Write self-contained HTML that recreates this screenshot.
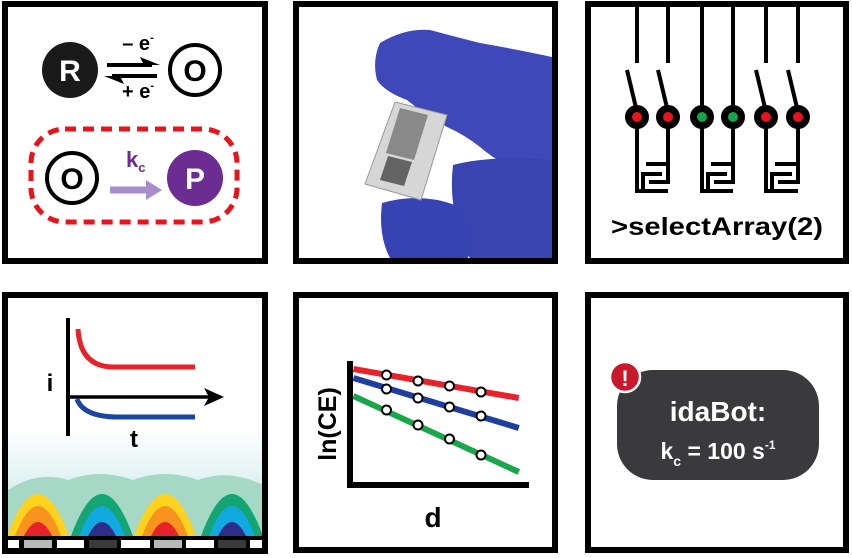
<!DOCTYPE html>
<html><head><meta charset="utf-8"><style>
html,body{margin:0;padding:0;background:#fff;width:852px;height:558px;overflow:hidden}
svg{display:block}
text{font-family:"Liberation Sans",sans-serif;font-weight:bold}
</style></head><body>
<svg id="g" width="852" height="558" viewBox="0 0 852 558">
<defs>
<linearGradient id="tg" x1="0" y1="0" x2="0" y2="1">
<stop offset="0" stop-color="#ffffff"/><stop offset="1" stop-color="#bfe3e3"/></linearGradient>
<clipPath id="c4"><rect x="5" y="295" width="260" height="256"/></clipPath>
</defs>

<!-- Panel 1: reaction scheme -->
<g>
<rect x="5" y="4" width="260" height="257" fill="#fff" stroke="#000" stroke-width="6"/>
<circle cx="70" cy="70" r="28" fill="#1a1a1a"/>
<text x="70" y="81" font-size="30" fill="#fff" text-anchor="middle">R</text>
<circle cx="195" cy="70" r="25" fill="#fff" stroke="#000" stroke-width="4"/>
<text x="195" y="81" font-size="30" fill="#000" text-anchor="middle">O</text>
<g>
<line x1="107" y1="65" x2="152" y2="65" stroke="#000" stroke-width="4"/>
<polygon points="160,65 140,57 144,65" fill="#000"/>
<line x1="112" y1="76" x2="157" y2="76" stroke="#000" stroke-width="4"/>
<polygon points="104,76 124,84 120,76" fill="#000"/>
</g>
<text x="138" y="50" font-size="20" text-anchor="middle">– e<tspan font-size="11" dy="-9">-</tspan></text>
<text x="138" y="98" font-size="20" text-anchor="middle">+ e<tspan font-size="11" dy="-9">-</tspan></text>
<rect x="31" y="129" width="206" height="93" rx="34" fill="none" stroke="#e8141c" stroke-width="5" stroke-dasharray="11,7"/>
<circle cx="72" cy="178" r="25" fill="#fff" stroke="#000" stroke-width="4"/>
<text x="72" y="189" font-size="30" text-anchor="middle">O</text>
<line x1="110" y1="190" x2="150" y2="190" stroke="#a98dcb" stroke-width="7"/>
<polygon points="162,190 146,180 146,200" fill="#a98dcb"/>
<text x="126" y="167" font-size="22" fill="#6b2d91">k<tspan font-size="13" dy="5">c</tspan></text>
<circle cx="195" cy="178" r="28" fill="#6b2d91"/>
<text x="195" y="189" font-size="30" fill="#fff" text-anchor="middle">P</text>
</g>

<!-- Panel 2: photo of device in glove -->
<g>
<rect x="296" y="4" width="259" height="257" fill="#fff" stroke="#000" stroke-width="6"/>
<path d="M380,43 Q405,28 430,30 Q460,38 480,43 Q520,50 552,57 L552,173 L520,173 Q495,160 480,147 Q465,135 447,127 Q425,115 407,100 Q385,92 377,80 Q372,60 380,43Z" fill="#3e48b8"/>
<path d="M453,165 Q490,155 552,160 L552,258 L470,258 Q455,240 455,215 Q450,190 453,165Z" fill="#3a44b0"/>
<path d="M382,203 Q420,192 455,205 Q470,225 468,258 L390,258 Q378,235 382,203Z" fill="#3843b3"/>
<polygon points="395,102 447,115 421,200 365,184" fill="#d6d6d6" stroke="#999" stroke-width="1"/>
<polygon points="400,108 428,115 414,160 386,153" fill="#555" opacity="0.6"/>
<polygon points="388,156 412,162 404,186 380,180" fill="#333" opacity="0.7"/>
</g>

<!-- Panel 3: array selection -->
<g>
<rect x="588" y="4" width="258" height="257" fill="#fff" stroke="#000" stroke-width="6"/>
<g id="sw" stroke="#000" stroke-width="4" fill="none"></g>
<text x="717" y="235" font-size="25" text-anchor="middle" textLength="212" lengthAdjust="spacingAndGlyphs">&gt;selectArray(2)</text>
</g>

<!-- Panel 4: current transients & diffusion -->
<g>
<rect x="5" y="295" width="260" height="256" fill="#fff"/>
<g clip-path="url(#c4)">
<rect x="5" y="428" width="260" height="110" fill="url(#tg)"/>
<path d="M5,538 L5,492 Q36,470 68,480 Q100,468 133,480 Q165,468 198,480 Q230,468 265,486 L265,538Z" fill="#a6d8c6"/>
<g id="arches"></g>
<rect x="5" y="536" width="260" height="16" fill="#000"/>
<g id="strip"></g>
</g>
<rect x="5" y="295" width="260" height="256" fill="none" stroke="#000" stroke-width="6"/>
<line x1="68" y1="318" x2="68" y2="436" stroke="#000" stroke-width="4"/>
<line x1="68" y1="397" x2="210" y2="397" stroke="#000" stroke-width="3.5"/>
<polygon points="224,397 204,388 209,397 204,406" fill="#000"/>
<path d="M78,329 Q80,366 112,367 L195,367" fill="none" stroke="#e8222a" stroke-width="5"/>
<path d="M77,399 Q83,416 115,417 L195,417" fill="none" stroke="#1a45a0" stroke-width="5"/>
<text x="50" y="391" font-size="24" text-anchor="middle">i</text>
<text x="134" y="447" font-size="24" text-anchor="middle">t</text>
</g>

<!-- Panel 5: ln(CE) vs d chart -->
<g>
<rect x="296" y="295" width="259" height="255" fill="#fff" stroke="#000" stroke-width="6"/>
<g id="chart"></g>
<line x1="350" y1="361" x2="350" y2="488" stroke="#000" stroke-width="6"/>
<line x1="347" y1="485" x2="529" y2="485" stroke="#000" stroke-width="6"/>
<text transform="translate(336,424) rotate(-90)" font-size="25" text-anchor="middle">ln(CE)</text>
<text x="433" y="527" font-size="28" text-anchor="middle">d</text>
</g>

<!-- Panel 6: idaBot -->
<g>
<rect x="588" y="295" width="258" height="255" fill="#fff" stroke="#000" stroke-width="6"/>
<rect x="617" y="370" width="202" height="110" rx="36" fill="#3a3a3c"/>
<circle cx="625" cy="377" r="15" fill="#c8182a" stroke="#fff" stroke-width="2.5"/>
<text x="625" y="386" font-size="22" fill="#fff" text-anchor="middle">!</text>
<text x="718" y="421" font-size="28" fill="#fff" text-anchor="middle">idaBot:</text>
<text x="718" y="459" font-size="23" fill="#fff" text-anchor="middle">k<tspan font-size="14" dy="7">c</tspan><tspan dy="-7"> = 100 s</tspan><tspan font-size="12" dy="-10">-1</tspan></text>
</g>
</svg>
<script>
// ln(CE) vs d data
const distances = [1, 2, 3, 4];
const lineStart = [-0.05, -0.05, -0.05];
const lineEnd = [5.2, 5.2, 5.2];
const seriesNames = ['red', 'blue', 'green'];
const seriesColors = ['#e8222a', '#1f3fa0', '#1aa64a'];
const redValues = [-0.30, -0.42, -0.52, -0.64];
const blueValues = [-0.58, -0.76, -0.94, -1.12];
const greenValues = [-1.00, -1.30, -1.58, -1.90];
const redLine = [-0.18, -0.76];
const blueLine = [-0.36, -1.36];
const greenLine = [-0.72, -2.24];

const NS = 'http://www.w3.org/2000/svg';
function xScale(d){ return 355 + d * 31.5; }
function yScale(v){ return 360 + (-v) * 50; }
const chart = document.getElementById('chart');
const allVals = [redValues, blueValues, greenValues];
const allLines = [redLine, blueLine, greenLine];
allVals.forEach((vals, s) => {
  const ln = document.createElementNS(NS, 'line');
  ln.setAttribute('x1', xScale(lineStart[s])); ln.setAttribute('y1', yScale(allLines[s][0]));
  ln.setAttribute('x2', xScale(lineEnd[s])); ln.setAttribute('y2', yScale(allLines[s][1]));
  ln.setAttribute('stroke', seriesColors[s]); ln.setAttribute('stroke-width', 6);
  
  
  chart.appendChild(ln);
});
allVals.forEach((vals, s) => {
  vals.forEach((v, i) => {
    const c = document.createElementNS(NS, 'circle');
    c.setAttribute('cx', xScale(distances[i])); c.setAttribute('cy', yScale(v));
    c.setAttribute('r', 4.5); c.setAttribute('fill', '#fff');
    c.setAttribute('stroke', '#000'); c.setAttribute('stroke-width', 2);
    
    
    chart.appendChild(c);
  });
});

// switch array
const sw = document.getElementById('sw');
function P(d){ const p = document.createElementNS(NS,'path'); p.setAttribute('d', d); sw.appendChild(p); return p; }
const xs = [637, 668, 702, 733, 766, 798];
const closed = [false, false, true, true, false, false];
const dotColors = ['#e8141c', '#e8141c', '#12a54a', '#12a54a', '#e8141c', '#e8141c'];
xs.forEach((x, i) => {
  if (closed[i]) { P(`M${x},5 L${x},117`); }
  else { P(`M${x},5 L${x},63`); P(`M${x-10},70 L${x},112`); }
  const d = document.createElementNS(NS,'circle');
  d.setAttribute('cx', x); d.setAttribute('cy', 117); d.setAttribute('r', 10); d.setAttribute('fill', '#000');
  
  
  sw.appendChild(d);
  const d2 = document.createElementNS(NS,'circle');
  d2.setAttribute('cx', x); d2.setAttribute('cy', 117); d2.setAttribute('r', 5); d2.setAttribute('fill', dotColors[i]); d2.setAttribute('stroke', 'none');
  sw.appendChild(d2);
});
for (let k = 0; k < 3; k++) {
  const L = xs[2*k], R = xs[2*k+1];
  const p1 = P(`M${L},127 L${L},191 L${R},191 M${L+6},191 L${L+6},174 L${R-6},174`);
  
  
  const p2 = P(`M${R},127 L${R},182 L${L+12},182 M${R},164 L${L+9},164`);
  
  
}

// arches and electrode strip (panel 4)
const ar = document.getElementById('arches');
const archCenters = [38, 102, 165, 232];
const palA = ['#ffd21f', '#f7931e', '#e8222a'];
const palB = ['#13a574', '#12a8e0', '#2e2d8c'];
archCenters.forEach((cx, i) => {
  const pal = i % 2 === 0 ? palA : palB;
  [[31, 42], [23, 30], [14, 14]].forEach((wh, j) => {
    const p = document.createElementNS(NS, 'path');
    p.setAttribute('d', `M${cx-wh[0]},536 Q${cx},${536-wh[1]*2} ${cx+wh[0]},536Z`);
    p.setAttribute('fill', pal[j]);
    
    
    ar.appendChild(p);
  });
});
const st = document.getElementById('strip');
const segs = [[8,19,'#fff'],[24,52,'#b8b8b8'],[57,84,'#fff'],[89,117,'#3a3a3a'],[121,150,'#fff'],[154,182,'#b8b8b8'],[186,214,'#fff'],[218,246,'#3a3a3a'],[250,263,'#fff']];
segs.forEach(s => {
  const r = document.createElementNS(NS, 'rect');
  r.setAttribute('x', s[0]); r.setAttribute('y', 540); r.setAttribute('width', s[1]-s[0]); r.setAttribute('height', 10); r.setAttribute('fill', s[2]);
  
  
  st.appendChild(r);
});
</script>
</body></html>
